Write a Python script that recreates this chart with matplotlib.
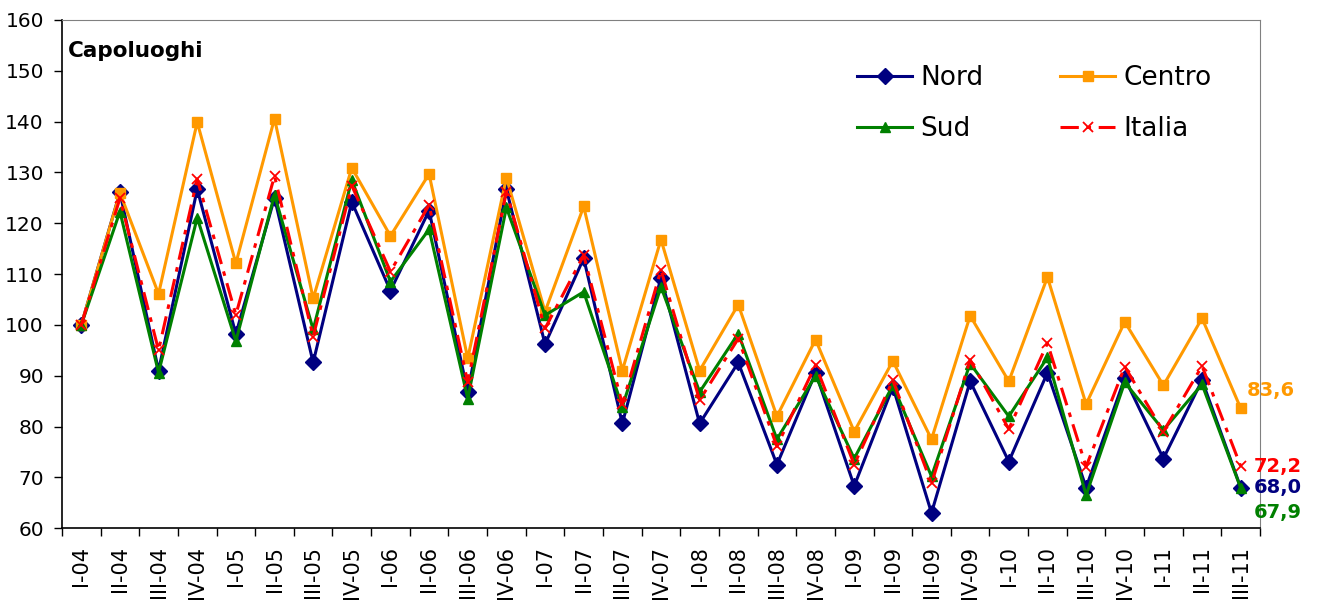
import numpy as np
import matplotlib
matplotlib.use('Agg')
import matplotlib.pyplot as plt

# Quarter labels
quarters = ['I-04', 'II-04', 'III-04', 'IV-04',
            'I-05', 'II-05', 'III-05', 'IV-05',
            'I-06', 'II-06', 'III-06', 'IV-06',
            'I-07', 'II-07', 'III-07', 'IV-07',
            'I-08', 'II-08', 'III-08', 'IV-08',
            'I-09', 'II-09', 'III-09', 'IV-09',
            'I-10', 'II-10', 'III-10', 'IV-10',
            'I-11', 'II-11', 'III-11']

# Index values (I-04 = 100)
nord = [100, 126.1, 91.0, 126.7, 98.2, 125.0, 92.6, 124.2, 106.7, 122.5,
        86.7, 126.7, 96.2, 113.1, 80.6, 109.3, 80.6, 92.6, 72.5, 90.6,
        68.3, 87.8, 63.0, 88.9, 73.1, 90.6, 68.0, 89.5, 73.7, 89.1, 68.0]
centro = [100, 126.0, 106.1, 139.9, 112.1, 140.6, 105.2, 130.9, 117.5, 129.7,
          93.4, 129.0, 102.6, 123.3, 91.0, 116.8, 91.0, 104.0, 82.0, 97.1,
          79.0, 92.9, 77.5, 101.8, 88.9, 109.4, 84.4, 100.6, 88.1, 101.3, 83.6]
sud = [100, 122.3, 90.6, 121.1, 96.8, 125.6, 99.1, 128.5, 108.5, 118.8,
       85.5, 123.1, 101.9, 106.5, 83.9, 107.5, 86.8, 98.3, 77.5, 90.0,
       73.7, 88.1, 70.2, 92.4, 82.0, 93.6, 66.5, 88.7, 79.3, 88.3, 67.9]
italia = [100, 124.9, 95.0, 128.7, 102.0, 129.3, 97.7, 127.4, 110.5, 123.6,
          88.7, 126.2, 99.3, 113.7, 84.4, 110.8, 85.2, 97.3, 76.1, 92.1,
          72.5, 89.1, 68.8, 93.1, 79.5, 96.4, 72.1, 91.8, 79.0, 91.9, 72.2]

x = np.arange(len(quarters))

fig = plt.figure(figsize=(13.18, 6.05), dpi=100)
ax = fig.add_axes([0.047, 0.127, 0.909, 0.840])

navy = '#000080'
orange = '#FF9900'
green = '#008000'
red = '#FF0000'

l_nord, = ax.plot(x, nord, color=navy, lw=2.2, marker='D', ms=8, label='Nord')
l_centro, = ax.plot(x, centro, color=orange, lw=2.2, marker='s', ms=7, label='Centro')
l_sud, = ax.plot(x, sud, color=green, lw=2.2, marker='^', ms=7, label='Sud')
l_italia, = ax.plot(x, italia, color=red, lw=2.2, marker='x', ms=7, mew=1.3,
                    linestyle=(0, (6, 2.5, 1.5, 2.5)), label='Italia')

ax.set_xlim(-0.5, len(quarters) - 0.5)
ax.set_ylim(60, 160)
ax.set_yticks(range(60, 161, 10))
ax.tick_params(axis='y', labelsize=14.5, direction='out', length=6, width=1,
               pad=7)

# category labels centred, ticks between categories
ax.set_xticks(x)
ax.set_xticklabels(quarters, rotation=90, fontsize=15)
ax.set_xticks(np.arange(-0.5, len(quarters), 1), minor=True)
ax.tick_params(axis='x', which='major', length=0, pad=13)
ax.tick_params(axis='x', which='minor', direction='out', length=6, width=1)

for side in ['top', 'right']:
    ax.spines[side].set_color('#808080')
for side in ['left', 'bottom']:
    ax.spines[side].set_color('black')
    ax.spines[side].set_linewidth(1.2)

ax.text(0.005, 0.938, 'Capoluoghi', transform=ax.transAxes, fontsize=15.5,
        fontweight='bold', va='center', ha='left')

ax.legend(handles=[l_nord, l_sud, l_centro, l_italia], ncol=2, frameon=False,
          fontsize=19, loc='upper left', bbox_to_anchor=(0.6636, 0.911),
          borderpad=0, borderaxespad=0, handlelength=2.1,
          columnspacing=2.9, labelspacing=0.94, handletextpad=0.3)

# final values next to the last quarter
last = len(quarters) - 1
end_labels = [(centro[-1], orange, 6, 18),
              (italia[-1], red, 13, 0),
              (nord[-1], navy, 13, 0),
              (sud[-1], green, 13, -24)]
for val, col, dx, dy in end_labels:
    ax.annotate(f'{val:.1f}'.replace('.', ','), xy=(last, val),
                xytext=(dx, dy), textcoords='offset pixels',
                color=col, fontsize=14, fontweight='bold',
                ha='left', va='center', annotation_clip=False)

fig.savefig('out.png', dpi=100)
